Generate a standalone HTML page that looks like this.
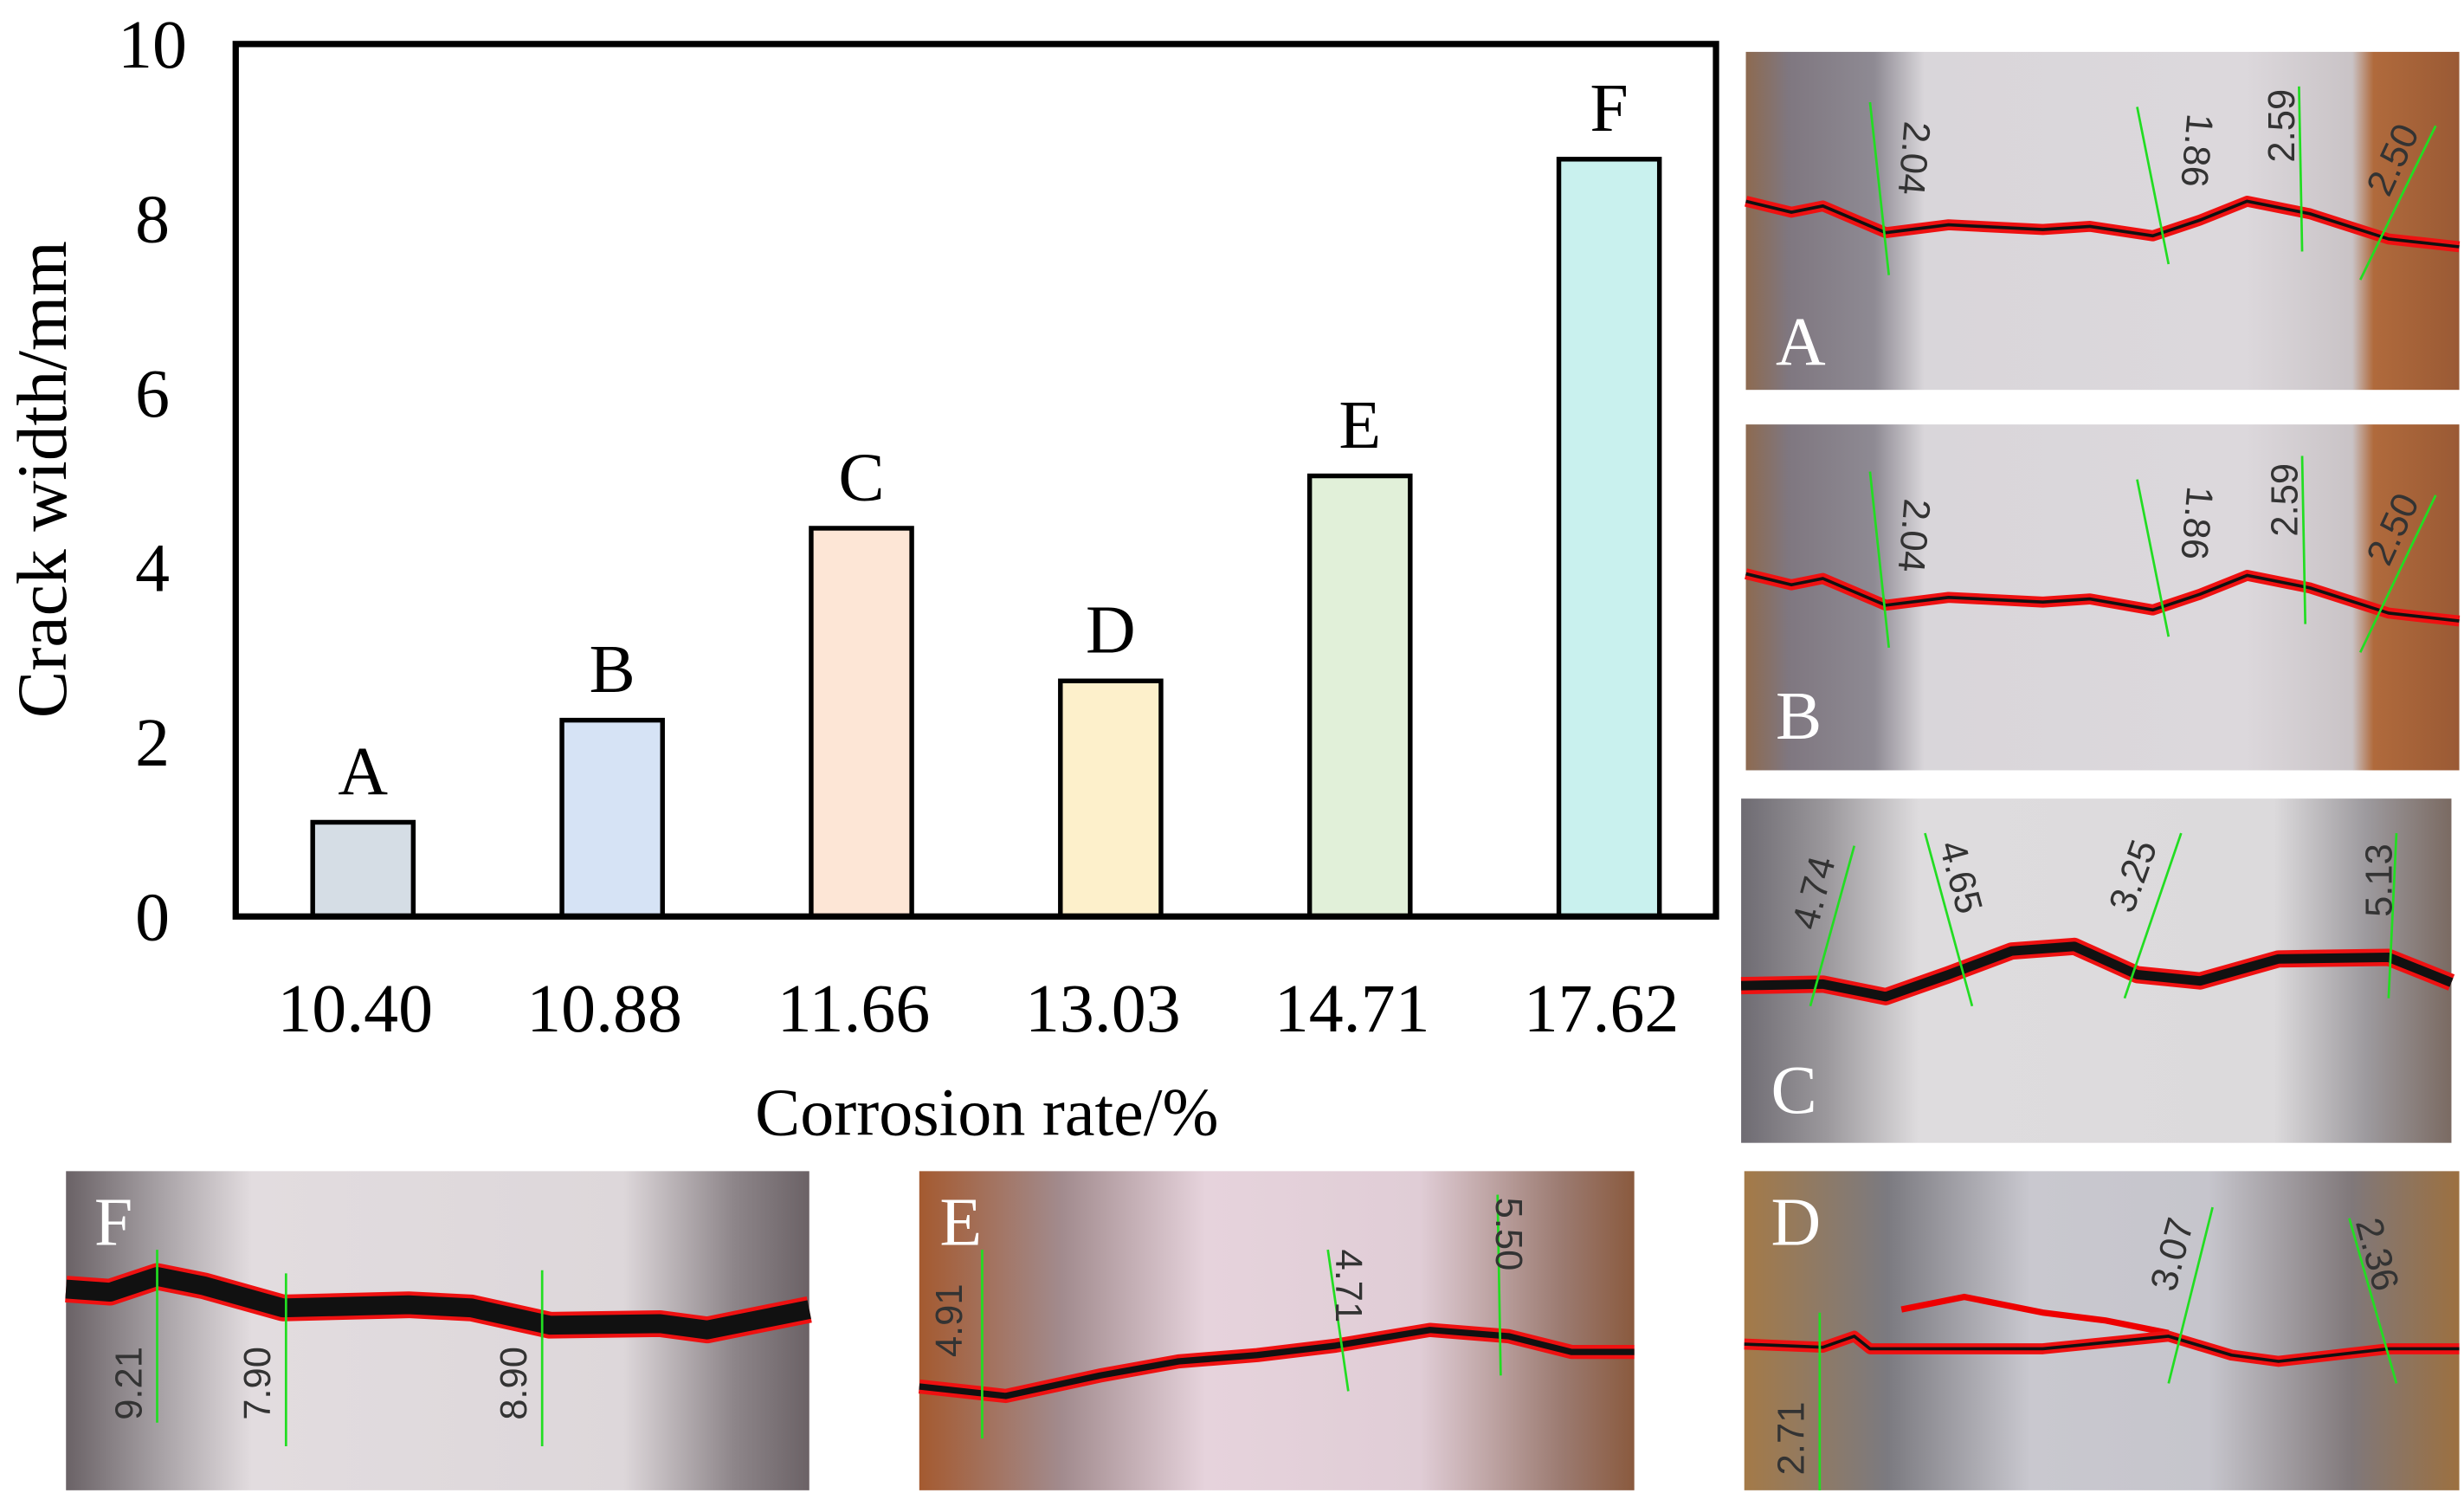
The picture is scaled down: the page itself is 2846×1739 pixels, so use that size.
<!DOCTYPE html>
<html><head><meta charset="utf-8"><style>
html,body{margin:0;padding:0;background:#fff;}
svg{display:block;}
text{font-family:"Liberation Serif",serif;}
</style></head>
<body>
<svg id="root" width="2846" height="1739" viewBox="0 0 1568 958" preserveAspectRatio="none" xmlns="http://www.w3.org/2000/svg">
<defs>
<linearGradient id="gA" x1="0" x2="1" y1="0" y2="0">
<stop offset="0" stop-color="#8d6a50"/><stop offset="0.06" stop-color="#7f7780"/><stop offset="0.18" stop-color="#8e8a93"/><stop offset="0.25" stop-color="#d9d6da"/><stop offset="0.7" stop-color="#dcd8dc"/><stop offset="0.85" stop-color="#c9c3c6"/><stop offset="0.88" stop-color="#b06a3c"/><stop offset="1" stop-color="#9a5a35"/>
</linearGradient>
<linearGradient id="gC" x1="0" x2="1" y1="0" y2="0">
<stop offset="0" stop-color="#6e6b72"/><stop offset="0.12" stop-color="#9b989c"/><stop offset="0.25" stop-color="#dedcde"/><stop offset="0.75" stop-color="#dcdadc"/><stop offset="0.88" stop-color="#9d9a9e"/><stop offset="1" stop-color="#7a6a62"/>
</linearGradient>
<linearGradient id="gF" x1="0" x2="1" y1="0" y2="0">
<stop offset="0" stop-color="#6a6266"/><stop offset="0.12" stop-color="#a49ea2"/><stop offset="0.25" stop-color="#e2dcdf"/><stop offset="0.75" stop-color="#ddd7da"/><stop offset="0.9" stop-color="#8d8589"/><stop offset="1" stop-color="#6b6266"/>
</linearGradient>
<linearGradient id="gE" x1="0" x2="1" y1="0" y2="0">
<stop offset="0" stop-color="#a45a30"/><stop offset="0.2" stop-color="#a28b8e"/><stop offset="0.4" stop-color="#e6d3dc"/><stop offset="0.7" stop-color="#e0cdd6"/><stop offset="0.9" stop-color="#9b7a70"/><stop offset="1" stop-color="#8a5a3e"/>
</linearGradient>
<linearGradient id="gD" x1="0" x2="1" y1="0" y2="0">
<stop offset="0" stop-color="#a47a48"/><stop offset="0.2" stop-color="#7b7a80"/><stop offset="0.4" stop-color="#c9c8cf"/><stop offset="0.65" stop-color="#c6c5cc"/><stop offset="0.85" stop-color="#80787a"/><stop offset="1" stop-color="#9c7040"/>
</linearGradient>
</defs>
<g id="chart"></g>
<g id="photos"></g>
</svg>
<script>
const categories = ["10.40","10.88","11.66","13.03","14.71","17.62"];
const values = [1.08, 2.25, 4.45, 2.7, 5.05, 8.68];
const barLabels = ["A","B","C","D","E","F"];
const barColors = ["#d5dde5","#d6e3f5","#fde6d6","#fdf0cb","#e1f0d9","#c9f1ee"];
const yTicks = [0,2,4,6,8,10];

const NS = "http://www.w3.org/2000/svg";
const X0 = 150, X1 = 1092, Y0 = 583, Y1 = 28;
function y(v){ return Y0 - (v/10)*(Y0-Y1); }
function xc(i){ return 231 + 158.6*i; }
function mk(tag, attrs, parent){ const e=document.createElementNS(NS,tag); for(const k in attrs) e.setAttribute(k,attrs[k]); parent.appendChild(e); return e; }
const chart = document.getElementById('chart');

categories.forEach((c,i)=>{
  const bw=64;
  const r=mk('rect',{x:xc(i)-bw/2,y:y(values[i]),width:bw,height:Y0-y(values[i]),fill:barColors[i],stroke:'#000','stroke-width':3},chart);
  
  
  const t=mk('text',{x:xc(i),y:y(values[i])-18,'text-anchor':'middle','font-size':44},chart);
  t.textContent=barLabels[i];
  
  
  const xt=mk('text',{x:xc(i)-5,y:656,'text-anchor':'middle','font-size':44},chart);
  xt.textContent=c;
  
  
});
yTicks.forEach(v=>{
  const t=mk('text',{x:97,y:y(v)+15,'text-anchor':'middle','font-size':44},chart);
  t.textContent=v;
  
  
});
const frame=mk('rect',{x:X0,y:Y1,width:X1-X0,height:Y0-Y1,fill:'none',stroke:'#000','stroke-width':4},chart);


const xtitle=mk('text',{x:628,y:722,'text-anchor':'middle','font-size':43},chart);
xtitle.textContent='Corrosion rate/%';


const ytitle=mk('text',{x:0,y:0,'text-anchor':'middle','font-size':45,transform:'translate(42,305) rotate(-90)'},chart);
ytitle.textContent='Crack width/mm';



// photo panels (decorative)
const photos=document.getElementById('photos');
const panels=[
 {n:'A',x:1111,y:33,w:454,h:215,g:'gA',lx:1130,ly:232,crack:[[1111,128],[1140,135],[1160,131],[1200,148],[1240,143],[1300,146],[1330,144],[1370,150],[1400,140],[1430,128],[1470,136],[1520,152],[1565,157]],black:2,
  meas:[[1190,65,1202,175,'2.04',1210,100,95],[1360,68,1380,168,'1.86',1390,95,95],[1463,55,1465,160,'2.59',1460,80,-90],[1550,80,1502,178,'2.50',1530,105,-65]]},
 {n:'B',x:1111,y:270,w:454,h:220,g:'gA',lx:1130,ly:470,crack:[[1111,365],[1140,372],[1160,368],[1200,385],[1240,380],[1300,383],[1330,381],[1370,388],[1400,378],[1430,366],[1470,374],[1520,390],[1565,395]],black:2,
  meas:[[1190,300,1202,412,'2.04',1210,340,95],[1360,305,1380,405,'1.86',1390,332,95],[1465,290,1467,397,'2.59',1462,318,-90],[1550,315,1502,415,'2.50',1530,340,-65]]},
 {n:'C',x:1108,y:508,w:452,h:219,g:'gC',lx:1127,ly:708,crack:[[1108,627],[1160,626],[1200,634],[1240,620],[1280,605],[1320,602],[1360,620],[1400,624],[1450,610],[1520,609],[1560,625]],black:6,
  meas:[[1180,538,1152,640,'4.74',1162,570,-75],[1225,530,1255,640,'4.65',1240,560,75],[1388,530,1352,635,'3.25',1365,560,-70],[1525,530,1520,635,'5.13',1522,560,-90]]},
 {n:'F',x:42,y:745,w:473,h:203,g:'gF',lx:60,ly:792,crack:[[42,820],[70,822],[100,812],[130,818],[180,832],[260,830],[300,832],[350,843],[420,842],[450,846],[515,833]],black:12,
  meas:[[100,795,100,905,'9.21',90,880,-90],[182,810,182,920,'7.90',172,880,-90],[345,808,345,920,'8.90',335,880,-90]]},
 {n:'E',x:585,y:745,w:455,h:203,g:'gE',lx:598,ly:792,crack:[[585,882],[640,888],[700,875],[750,866],[800,862],[850,856],[910,846],[960,850],[1000,860],[1040,860]],black:4,
  meas:[[625,795,625,915,'4.91',612,840,-90],[845,795,858,885,'4.71',850,818,90],[953,760,955,875,'5.50',952,785,90]]},
 {n:'D',x:1110,y:745,w:455,h:203,g:'gD',lx:1127,ly:792,crack:[[1110,855],[1160,857],[1180,850],[1190,858],[1300,858],[1380,850],[1420,862],[1450,866],[1520,858],[1565,858]],black:2,
  meas:[[1158,835,1158,948,'2.71',1148,915,-90],[1408,768,1380,880,'3.07',1390,800,-75],[1495,775,1525,880,'2.36',1505,800,75]]}
];
panels.forEach(p=>{
  const g=mk('g',{},photos);
  
  
  mk('rect',{x:p.x,y:p.y,width:p.w,height:p.h,fill:'url(#'+p.g+')'},g);
  if(p.n==='D'){
    mk('polyline',{points:'1210,833 1250,825 1300,835 1340,840 1380,848',fill:'none',stroke:'#e00','stroke-width':4},g);
  }
  const pts=p.crack.map(q=>q.join(',')).join(' ');
  mk('polyline',{points:pts,fill:'none',stroke:'#ee1111','stroke-width':p.black+5,'stroke-linejoin':'round'},g);
  mk('polyline',{points:pts,fill:'none',stroke:'#111','stroke-width':p.black,'stroke-linejoin':'round'},g);
  p.meas.forEach(m=>{
    mk('line',{x1:m[0],y1:m[1],x2:m[2],y2:m[3],stroke:'#22dd22','stroke-width':1.5},g);
    const t=mk('text',{x:0,y:0,'text-anchor':'middle','font-size':24,fill:'#333',transform:'translate('+m[5]+','+m[6]+') rotate('+m[7]+')',style:'font-family:"Liberation Sans",sans-serif'},g);
    t.textContent=m[4];
    
    
  });
  const l=mk('text',{x:p.lx,y:p.ly,'font-size':44,fill:'#fff'},g);
  l.textContent=p.n;
  
  
});
</script>
</body></html>
